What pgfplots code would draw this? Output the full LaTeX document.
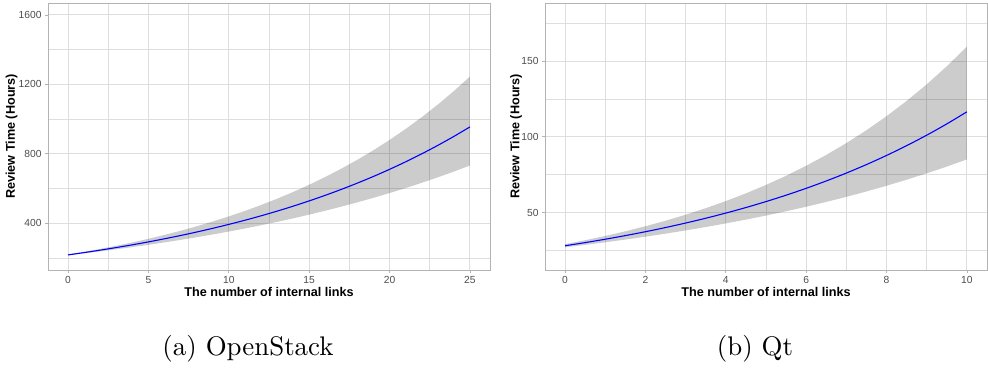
\documentclass[border=0pt]{standalone}
\usepackage{pgfplots}
\pgfplotsset{compat=1.18}
\usepgfplotslibrary{fillbetween}
\usepackage{fontspec}
\setsansfont{Liberation Sans}
\newfontfamily\capfont[Extension=.otf]{lmroman10-regular}
\definecolor{gridc}{HTML}{DEDEDE}
\definecolor{framec}{HTML}{B3B3B3}
\definecolor{tickc}{HTML}{4D4D4D}
\pgfplotsset{
  ggstyle/.style={
    scale only axis, width=442bp, height=267bp, anchor=south west,
    axis line style={framec, line width=0.8bp},
    grid=both,
    major grid style={gridc, line width=1bp},
    minor grid style={gridc, line width=0.7bp},
    tick align=outside, xtick pos=bottom, ytick pos=left,
    major tick length=3bp, minor tick length=0pt,
    tick style={framec, line width=0.8bp},
    ticklabel style={font=\sffamily\fontsize{10.3}{12}\selectfont, text=tickc},
    /pgf/number format/assume math mode=true,
    /pgf/number format/1000 sep={},
    xlabel style={font=\sffamily\bfseries\fontsize{12.7}{14}\selectfont, at={(axis description cs:0.5,0)}, anchor=base, yshift=-26.5bp},
    ylabel style={font=\sffamily\bfseries\fontsize{12.7}{14}\selectfont, anchor=center},
  }
}
\begin{document}
\begin{tikzpicture}
\path (0,0) rectangle (988bp,371bp);
% ---------------- OpenStack ----------------
\begin{axis}[ggstyle, at={(48bp,101bp)},
  xmin=-1.25, xmax=26.25, ymin=131, ymax=1669,
  xtick={0,5,10,15,20,25}, minor xtick={2.5,7.5,12.5,17.5,22.5},
  ytick={400,800,1200,1600}, minor ytick={200,600,1000,1400},
  xlabel={The number of internal links},
  ylabel={Review Time (Hours)},
  ylabel style={at={(axis description cs:-0.0821,0.5)}},
]
\addplot[name path=up, draw=none, forget plot] table {
x y
0 219.6
1 235.5
2 252.4
3 270.5
4 289.9
5 310.7
6 333.1
7 357.0
8 382.7
9 410.2
10 439.7
11 471.2
12 505.1
13 541.4
14 580.3
15 622.0
16 666.7
17 714.7
18 766.0
19 821.0
20 880.0
21 943.3
22 1011.0
23 1083.7
24 1161.6
25 1245.1
};
\addplot[name path=lo, draw=none, forget plot] table {
x y
0 216.4
1 227.2
2 238.6
3 250.5
4 263.0
5 276.1
6 290.0
7 304.5
8 319.7
9 335.7
10 352.5
11 370.1
12 388.6
13 408.0
14 428.4
15 449.9
16 472.4
17 496.0
18 520.8
19 546.8
20 574.2
21 602.9
22 633.0
23 664.7
24 697.9
25 732.8
};
\addplot[fill=black, fill opacity=0.2, draw=none] fill between[of=up and lo];
\addplot[blue, line width=1.1bp, smooth] table {
x y
0 218.0
1 231.3
2 245.4
3 260.3
4 276.1
5 292.9
6 310.8
7 329.7
8 349.8
9 371.1
10 393.7
11 417.6
12 443.0
13 470.0
14 498.6
15 529.0
16 561.2
17 595.4
18 631.6
19 670.0
20 710.8
21 754.1
22 800.0
23 848.7
24 900.4
25 955.2
};
\end{axis}
% ---------------- Qt ----------------
\begin{axis}[ggstyle, at={(545bp,101bp)},
  xmin=-0.5, xmax=10.5, ymin=12.2, ymax=188.3,
  xtick={0,2,4,6,8,10}, minor xtick={1,3,5,7,9},
  ytick={50,100,150}, minor ytick={25,75,125,175},
  xlabel={The number of internal links},
  ylabel={Review Time (Hours)},
  ylabel style={at={(axis description cs:-0.0656,0.5)}},
]
\addplot[name path=up, draw=none, forget plot] table {
x y
0 29.25
0.5 31.83
1 34.66
1.5 37.73
2 41.06
2.5 44.70
3 48.66
3.5 52.97
4 57.66
4.5 62.75
5 68.31
5.5 74.36
6 80.94
6.5 88.11
7 95.90
7.5 104.39
8 113.63
8.5 123.70
9 134.65
9.5 146.57
10 159.54
};
\addplot[name path=lo, draw=none, forget plot] table {
x y
0 27.19
0.5 28.78
1 30.48
1.5 32.27
2 34.16
2.5 36.17
3 38.30
3.5 40.54
4 42.93
4.5 45.44
5 48.11
5.5 50.94
6 53.93
6.5 57.10
7 60.45
7.5 64.00
8 67.76
8.5 71.75
9 75.96
9.5 80.42
10 85.14
};
\addplot[fill=black, fill opacity=0.2, draw=none] fill between[of=up and lo];
\addplot[blue, line width=1.1bp, smooth] table {
x y
0 28.20
0.5 30.27
1 32.50
1.5 34.89
2 37.45
2.5 40.21
3 43.17
3.5 46.34
4 49.75
4.5 53.40
5 57.33
5.5 61.55
6 66.07
6.5 70.93
7 76.14
7.5 81.74
8 87.75
8.5 94.21
9 101.13
9.5 108.57
10 116.55
};
\end{axis}
\node[anchor=base, font=\capfont\fontsize{27}{32}\selectfont] at (248bp,16bp) {(a) OpenStack};
\node[anchor=base, font=\capfont\fontsize{27}{32}\selectfont] at (755bp,16bp) {(b) Qt};
\pgfresetboundingbox
\path[use as bounding box] (0,0) rectangle (988bp,371bp);
\end{tikzpicture}
\end{document}
